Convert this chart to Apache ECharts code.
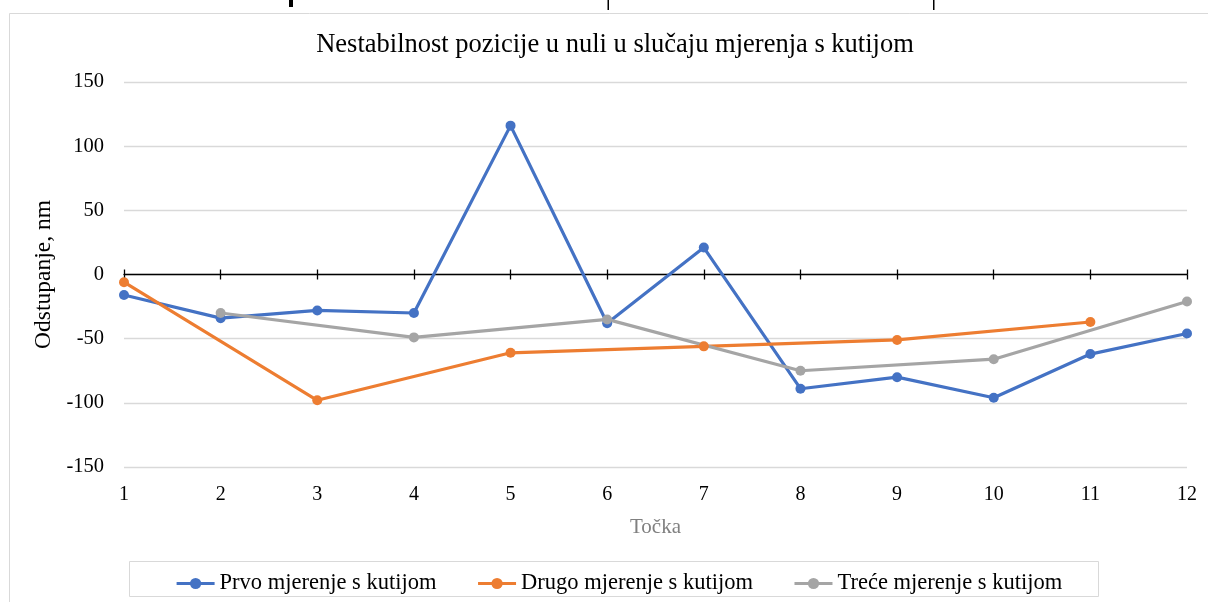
<!DOCTYPE html>
<html>
<head>
<meta charset="utf-8">
<script src="https://cdn.jsdelivr.net/npm/echarts@6/dist/echarts.min.js"></script>
<style>
  html, body { margin: 0; padding: 0; background: #fff; }
  #chart { width: 1208px; height: 602px; }
</style>
</head>
<body>
<div id="chart"></div>
<script>
// Measuring points 1..12
const points = ['1', '2', '3', '4', '5', '6', '7', '8', '9', '10', '11', '12'];

// Deviation in nm for each measurement run (null = point not measured in that run)
const prvo   = [-16, -34, -28, -30, 116, -38, 21, -89, -80, -96, -62, -46];
const drugo  = [-6, null, -98, null, -61, null, -56, null, -51, null, -37, null];
const trece  = [null, -30, null, -49, null, -35, null, -75, null, -66, null, -21];

const seriesNames = ['Prvo mjerenje s kutijom', 'Drugo mjerenje s kutijom', 'Treće mjerenje s kutijom'];
const seriesColors = ['#4472C4', '#ED7D31', '#A5A5A5'];

const chartTitle = 'Nestabilnost pozicije u nuli u slučaju mjerenja s kutijom';
const yTitle = 'Odstupanje, nm';
const xTitle = 'Točka';

const FONT = '"Liberation Serif", "Times New Roman", serif';

// plot box
const GRID_TOP = 82, GRID_BOTTOM = 135, CHART_H = 602;
const PLOT_H = CHART_H - GRID_TOP - GRID_BOTTOM;
const Y_MIN = -150, Y_MAX = 150;
// distance from the bottom edge of the plot up to the zero line
const ZERO_OFFSET = PLOT_H * (0 - Y_MIN) / (Y_MAX - Y_MIN);

const chart = echarts.init(document.getElementById('chart'), null, { renderer: 'canvas' });

function lineSeries(name, data, color) {
  return {
    name: name,
    type: 'line',
    xAxisIndex: 0,
    data: data,
    connectNulls: true,
    symbol: 'circle',
    symbolSize: 10,
    showSymbol: true,
    color: color,
    lineStyle: { width: 3.2, color: color },
    itemStyle: { color: color },
    emphasis: { disabled: true },
    animation: false
  };
}

const baseX = {
  type: 'category',
  data: points,
  boundaryGap: false,
  position: 'bottom'
};

chart.setOption({
  animation: false,
  backgroundColor: '#fff',
  textStyle: { fontFamily: FONT },
  grid: { left: 124, right: 21, top: GRID_TOP, bottom: GRID_BOTTOM, containLabel: false },
  graphic: [
    // outer frame of the chart area
    { type: 'rect', shape: { x: 9.5, y: 13.5, width: 1210, height: 600 },
      style: { fill: 'none', stroke: '#d9d9d9', lineWidth: 1 }, silent: true },
    // table rule fragments above the frame
    { type: 'rect', shape: { x: 289, y: 0, width: 4, height: 7 }, style: { fill: '#000' }, silent: true },
    { type: 'rect', shape: { x: 607.5, y: 0, width: 1.5, height: 10 }, style: { fill: '#000' }, silent: true },
    { type: 'rect', shape: { x: 933, y: 0, width: 1.5, height: 10 }, style: { fill: '#000' }, silent: true },
    // legend box
    { type: 'rect', shape: { x: 129.5, y: 561.5, width: 969, height: 35 },
      style: { fill: 'none', stroke: '#d9d9d9', lineWidth: 1 }, silent: true },
    // chart title
    { type: 'text', x: 615, y: 45,
      style: { text: chartTitle, font: '26.5px ' + FONT, fill: '#000',
               textAlign: 'center', textVerticalAlign: 'middle' }, silent: true }
  ],
  legend: {
    data: seriesNames,
    left: 170,
    top: 567,
    itemWidth: 38,
    itemHeight: 14,
    itemGap: 40,
    lineStyle: { width: 3.2 },
    textStyle: { fontFamily: FONT, fontSize: 22.5, color: '#000' },
    selectedMode: false
  },
  xAxis: [
    // axis line through zero with downward ticks
    Object.assign({}, baseX, {
      axisLine: { show: true, onZero: true, lineStyle: { color: '#000', width: 1.3 } },
      axisTick: { show: true, inside: false, length: 5, interval: 0, lineStyle: { color: '#000', width: 1.3 } },
      axisLabel: { show: false },
      splitLine: { show: false }
    }),
    // upward ticks on the same zero line, so the ticks cross the axis
    Object.assign({}, baseX, {
      offset: -ZERO_OFFSET,
      axisLine: { show: false, onZero: false },
      axisTick: { show: true, inside: true, length: 5, interval: 0, lineStyle: { color: '#000', width: 1.3 } },
      axisLabel: { show: false },
      splitLine: { show: false }
    }),
    // category labels and axis title along the bottom of the plot
    Object.assign({}, baseX, {
      axisLine: { show: false, onZero: false },
      axisTick: { show: false },
      axisLabel: { show: true, interval: 0, margin: 18, fontFamily: FONT, fontSize: 20, color: '#000' },
      splitLine: { show: false },
      name: xTitle,
      nameLocation: 'middle',
      nameGap: 50,
      nameTextStyle: { fontFamily: FONT, fontSize: 21, color: '#808080' }
    })
  ],
  yAxis: {
    type: 'value',
    min: Y_MIN,
    max: Y_MAX,
    interval: 50,
    axisLine: { show: false },
    axisTick: { show: false },
    axisLabel: { margin: 20, fontFamily: FONT, fontSize: 20.5, color: '#000' },
    splitLine: { show: true, lineStyle: { color: '#d9d9d9', width: 1.3 } },
    name: yTitle,
    nameLocation: 'middle',
    nameGap: 62,
    nameRotate: 90,
    nameTextStyle: { fontFamily: FONT, fontSize: 23.5, color: '#000' }
  },
  series: [
    lineSeries(seriesNames[0], prvo, seriesColors[0]),
    lineSeries(seriesNames[1], drugo, seriesColors[1]),
    lineSeries(seriesNames[2], trece, seriesColors[2])
  ]
});
</script>
</body>
</html>
